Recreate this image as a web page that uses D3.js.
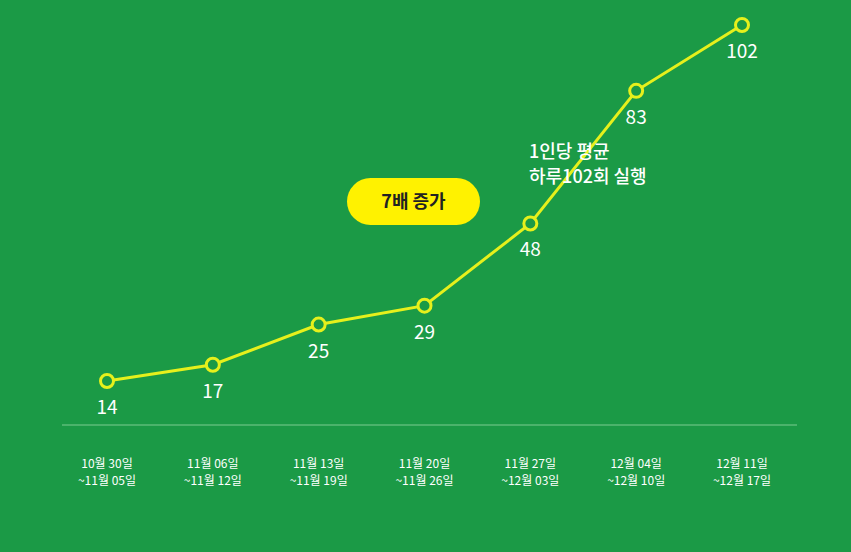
<!DOCTYPE html><html><head><meta charset="utf-8"><script src="https://cdn.jsdelivr.net/npm/d3@7"></script>
<style>body{margin:0;background:#1b9a46}</style></head><body><svg id="c" width="851" height="552"></svg><script>
const categories=[["10월 30일","~11월 05일"],["11월 06일","~11월 12일"],["11월 13일","~11월 19일"],["11월 20일","~11월 26일"],["11월 27일","~12월 03일"],["12월 04일","~12월 10일"],["12월 11일","~12월 17일"]];
const values=[14,17,25,29,48,83,102];
const svg=d3.select("#c");
const font="'Noto Sans CJK KR','Noto Sans',sans-serif";
svg.append("rect").attr("width",851).attr("height",552).attr("fill","#1b9a46");
const x=d3.scalePoint().domain(d3.range(values.length)).range([107,742]);
const y=d3.scalePow().exponent(0.75).domain([14,102]).range([381,25]);
svg.append("line").attr("x1",62).attr("x2",797).attr("y1",425).attr("y2",425).attr("stroke","#5cbb78").attr("stroke-width",1.5);
categories.forEach((c,i)=>{c.forEach((t,j)=>svg.append("text").attr("x",x(i)).attr("y",468+j*17).attr("text-anchor","middle").attr("fill","#fff").attr("font-size",12).attr("font-family",font).text(t));});
svg.append("path").datum(values).attr("d",d3.line().x((d,i)=>x(i)).y(d=>y(d))).attr("fill","none").attr("stroke","#e6f01c").attr("stroke-width",3);
svg.selectAll("circle").data(values).join("circle").attr("cx",(d,i)=>x(i)).attr("cy",d=>y(d)).attr("r",6.5).attr("fill","#1b9a46").attr("stroke","#e6f01c").attr("stroke-width",3);
svg.selectAll(".v").data(values).join("text").attr("x",(d,i)=>x(i)).attr("y",d=>y(d)+33).attr("text-anchor","middle").attr("fill","#fff").attr("font-size",19).attr("font-family",font).text(d=>d);
svg.append("rect").attr("x",347).attr("y",178).attr("width",133).attr("height",47).attr("rx",23.5).attr("fill","#fff200");
svg.append("text").attr("x",413.5).attr("y",208).attr("text-anchor","middle").attr("font-size",18).attr("font-weight","bold").attr("fill","#222").attr("font-family",font).text("7배 증가");
[["1인당 평균",158],["하루102회 실행",183]].forEach(([t,yy])=>svg.append("text").attr("x",529).attr("y",yy).attr("fill","#fff").attr("font-size",18).attr("font-weight","500").attr("font-family",font).text(t));
</script></body></html>
